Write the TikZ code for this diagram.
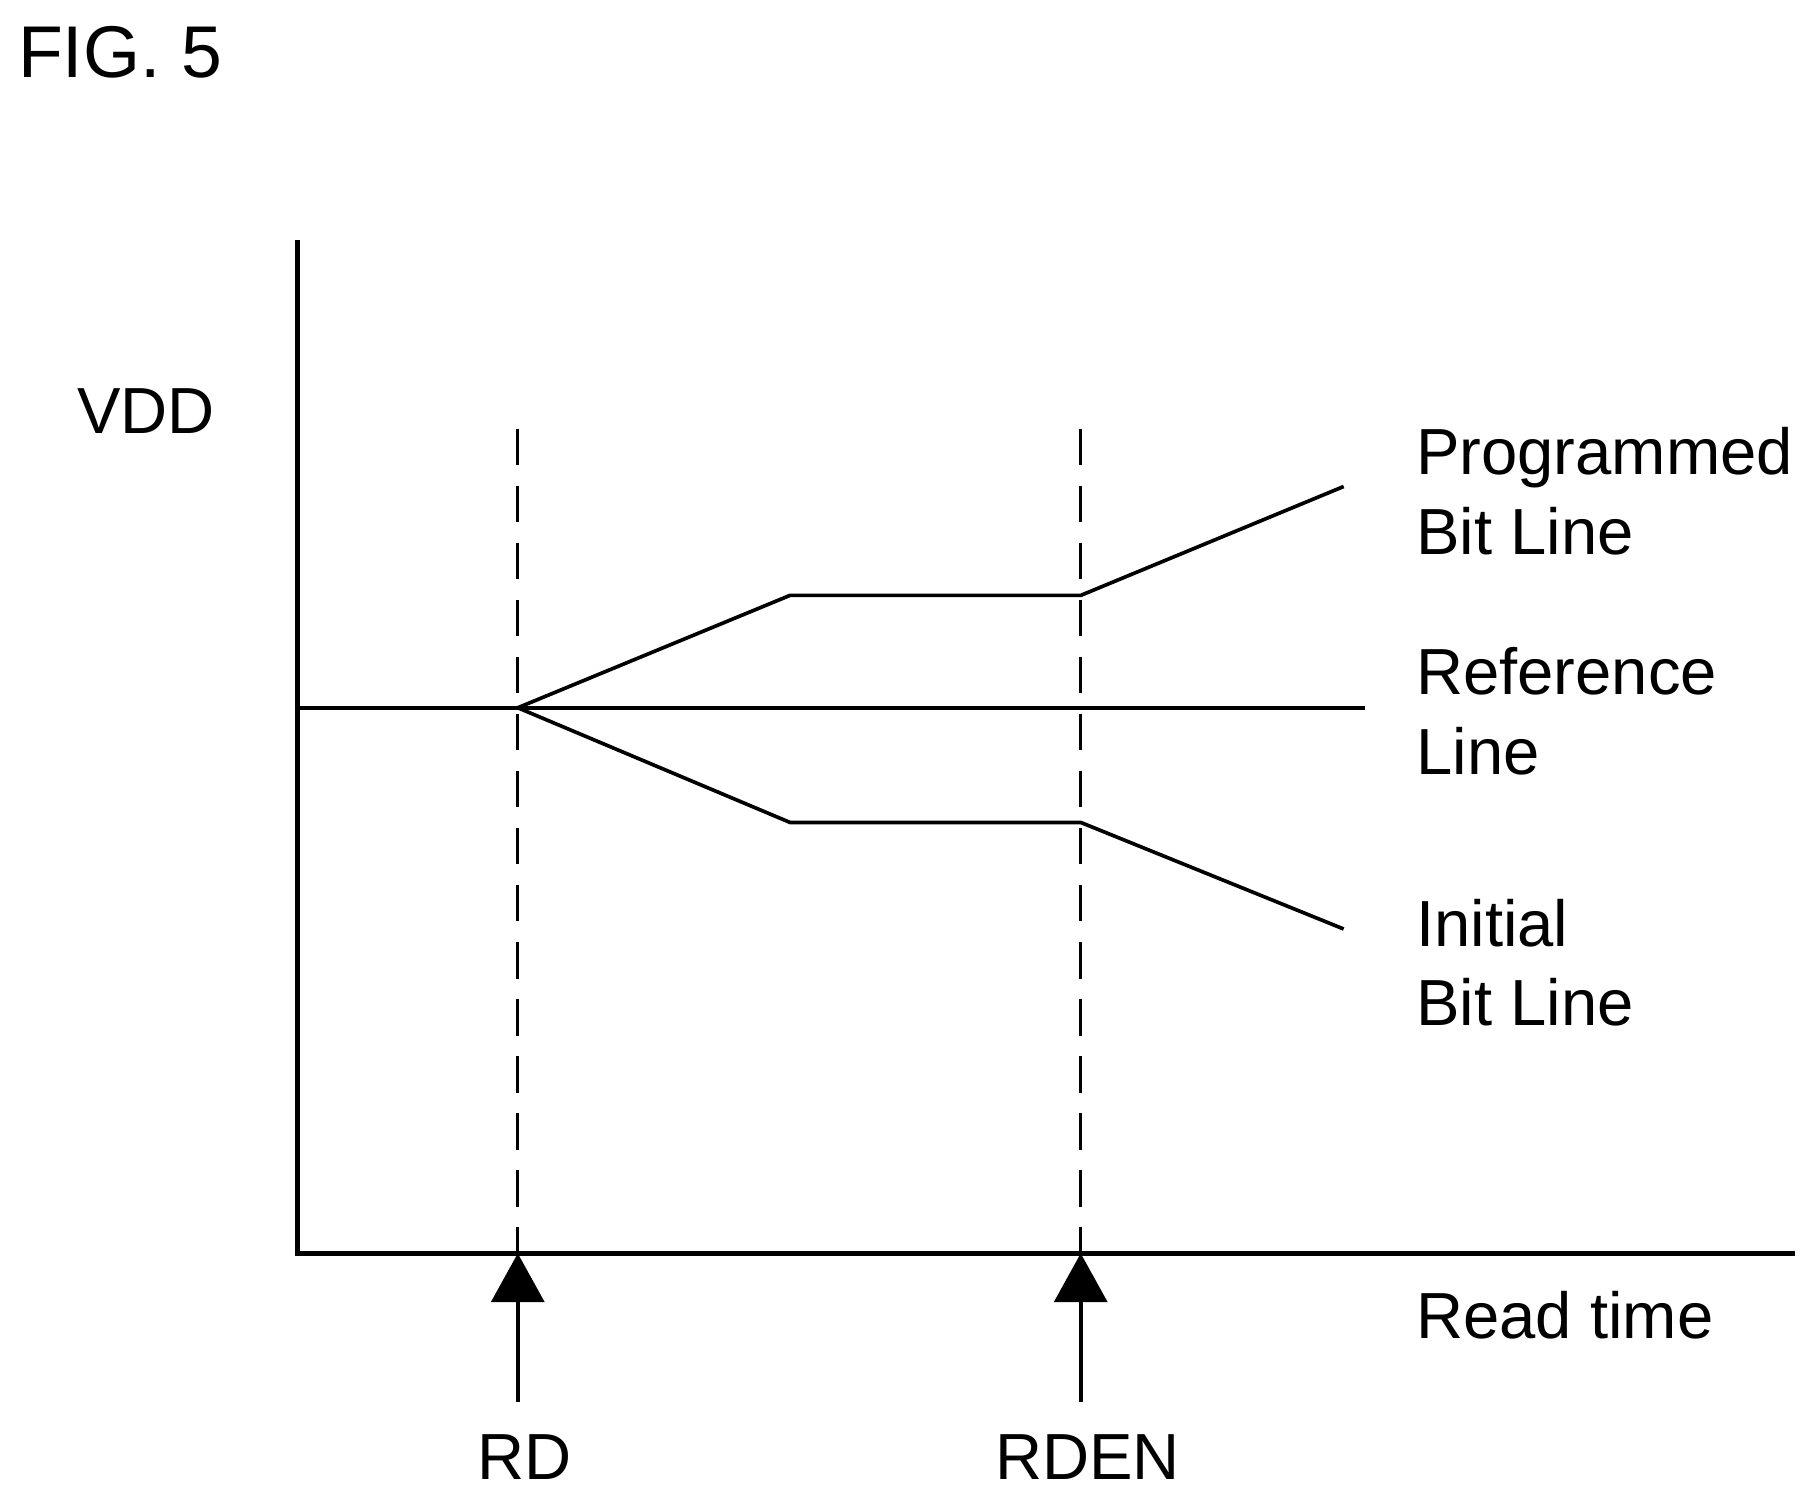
\documentclass[tikz,border=0pt]{standalone}
\usepackage{fontspec}
\setmainfont{Liberation Sans}
\usetikzlibrary{calc,positioning,arrows.meta}

\begin{document}
\begin{tikzpicture}[
  x=0.01cm,y=-0.01cm,
  axis/.style={line width=1.1pt},
  signal/.style={line width=0.9pt},
  marker/.style={line width=0.8pt,dashed,dash pattern=on 9pt off 5pt},
  pointer/.style={line width=1pt,-{Triangle[length=12pt,width=13pt]}},
  label/.style={font=\fontsize{16}{19.5}\selectfont,anchor=west,align=left,inner sep=0pt},
  ]
  \useasboundingbox (0,0) rectangle (1560,1287);

  \node (fig) [font=\fontsize{18}{20}\selectfont,anchor=west,inner sep=0pt] at (15,45) {FIG. 5};

  % axes
  \coordinate (origin) at (257,1082);
  \coordinate (y_top) at (257,207);
  \coordinate (x_end) at (1550,1082);
  \draw[axis] (y_top) -- (origin) -- (x_end);
  \node (vdd) [font=\fontsize{16}{19}\selectfont,inner sep=0pt] at (126,355) {VDD};

  % read instants
  \foreach \name/\x/\txt in {rd/447/RD,rden/933/RDEN}
  {
    \coordinate (top_\name) at (\x,370);
    \coordinate (foot_\name) at (\x,1082);
    \draw[marker] (top_\name) -- (foot_\name);
    \node (lbl_\name) [font=\fontsize{16}{19}\selectfont,inner sep=0pt] at ($(\x,1258)+(6,0)$) {\txt};
    \draw[pointer] (\x,1210) -- (foot_\name);
  }

  % signals
  \coordinate (split) at (447,611);
  \draw[signal] (257,611) -- (1178,611);
  \draw[signal] (split) -- (682,514) -- (933,514) -- (1160,420);
  \draw[signal] (split) -- (682,710) -- (933,710) -- (1160,802);

  \node (prog) [label] at (1222,424) {Programmed\\Bit Line};
  \node (ref) [label] at (1222,614) {Reference\\Line};
  \node (init) [label] at (1222,831) {Initial\\Bit Line};
  \node (time) [label] at (1222,1135) {Read time};
\end{tikzpicture}
\end{document}
